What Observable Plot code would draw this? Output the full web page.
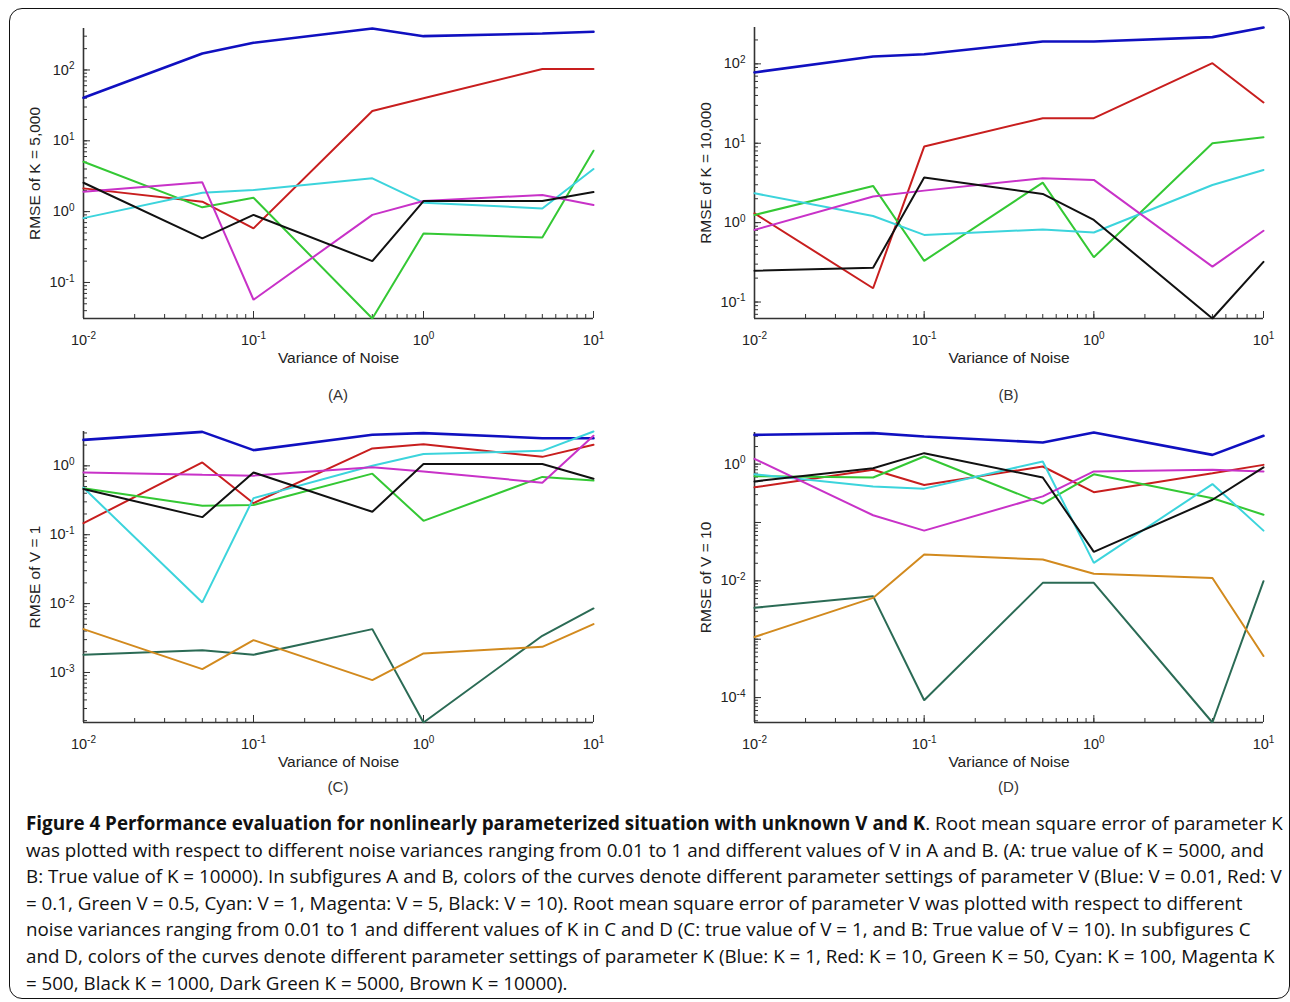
<!DOCTYPE html>
<html><head><meta charset="utf-8">
<script src="https://cdn.jsdelivr.net/npm/d3@7"></script>
<script src="https://cdn.jsdelivr.net/npm/@observablehq/plot@0.6"></script>
<style>
body{margin:0;background:#fff;}
#wrap{position:relative;width:1290px;height:1002px;overflow:hidden;font-family:"Liberation Sans",Arial,sans-serif;background:#fff;}
#frame{position:absolute;left:9px;top:8px;width:1281px;height:991px;border:1.6px solid #111;border-radius:13px;box-sizing:border-box;}
.panel{position:absolute;}
.tag{position:absolute;font-size:15px;color:#333;transform:translateX(-50%);}
#caption{position:absolute;left:26px;top:810px;font-family:"Open Sans",sans-serif;font-size:18.8px;line-height:26.6px;color:#111;white-space:nowrap;}
#caption b{font-weight:700;}
</style></head>
<body><div id="wrap"><div id="frame"></div></div>
<script>
// x values: variance of noise
const noise = [0.01, 0.05, 0.1, 0.5, 1, 5, 10];

// Panel A: RMSE of K = 5,000 (curves by V)
const A_blue    = [40.5, 171, 242, 385, 300, 327, 346];
const A_red     = [2.13, 1.38, 0.58, 26.3, 40, 103, 103];
const A_green   = [5.07, 1.15, 1.57, 0.031, 0.49, 0.43, 7.25];
const A_cyan    = [0.81, 1.85, 2.02, 2.95, 1.34, 1.11, 4.0];
const A_magenta = [1.91, 2.59, 0.057, 0.90, 1.41, 1.72, 1.24];
const A_black   = [2.56, 0.42, 0.90, 0.20, 1.41, 1.41, 1.89];

// Panel B: RMSE of K = 10,000 (curves by V)
const B_blue    = [78, 124, 132, 191, 191, 217, 287];
const B_red     = [1.31, 0.149, 9.08, 20.7, 20.7, 102, 32.6];
const B_green   = [1.25, 2.9, 0.33, 3.19, 0.366, 10, 11.9];
const B_cyan    = [2.34, 1.21, 0.70, 0.82, 0.75, 2.98, 4.61];
const B_magenta = [0.81, 2.13, 2.53, 3.62, 3.45, 0.279, 0.79];
const B_black   = [0.248, 0.271, 3.69, 2.30, 1.08, 0.062, 0.32];

// Panel C: RMSE of V = 1 (curves by K)
const C_blue      = [2.38, 3.11, 1.69, 2.82, 2.98, 2.52, 2.52];
const C_red       = [0.147, 1.12, 0.287, 1.79, 2.06, 1.35, 2.02];
const C_green     = [0.474, 0.263, 0.27, 0.77, 0.159, 0.69, 0.61];
const C_cyan      = [0.48, 0.0104, 0.34, 1.0, 1.48, 1.65, 3.15];
const C_magenta   = [0.80, 0.74, 0.72, 0.95, 0.83, 0.57, 2.73];
const C_black     = [0.46, 0.18, 0.80, 0.215, 1.06, 1.06, 0.65];
const C_darkgreen = [1.81e-3, 2.11e-3, 1.81e-3, 4.26e-3, 1.88e-4, 3.41e-3, 8.5e-3];
const C_brown     = [4.26e-3, 1.12e-3, 2.95e-3, 7.75e-4, 1.89e-3, 2.36e-3, 5.04e-3];

// Panel D: RMSE of V = 10 (curves by K)
const D_blue      = [3.17, 3.39, 2.97, 2.35, 3.48, 1.44, 3.05];
const D_red       = [0.40, 0.80, 0.44, 0.91, 0.33, 0.70, 0.97];
const D_green     = [0.62, 0.59, 1.35, 0.21, 0.67, 0.26, 0.136];
const D_cyan      = [0.67, 0.415, 0.38, 1.11, 0.0203, 0.455, 0.0725];
const D_magenta   = [1.23, 0.133, 0.0725, 0.28, 0.75, 0.80, 0.75];
const D_black     = [0.505, 0.85, 1.54, 0.59, 0.0313, 0.245, 0.88];
const D_darkgreen = [3.45e-3, 5.47e-3, 9.0e-5, 9.24e-3, 9.24e-3, 3.74e-5, 9.87e-3];
const D_brown     = [1.09e-3, 5.1e-3, 0.0282, 0.0232, 0.0132, 0.0112, 5.15e-4];

const colors = {
  blue: "#1010c0", red: "#c81e1e", green: "#34c834", cyan: "#3cd4dc",
  magenta: "#c832c8", black: "#111111", darkgreen: "#2b6b55", brown: "#d28a1e"
};
const xLabel = "Variance of Noise";

const wrap = document.getElementById("wrap");

function isMajor(v) {
  const l = Math.log10(v);
  return Math.abs(l - Math.round(l)) < 1e-9;
}

function panel(cfg) {
  const {series, yLabel, tag, left, top, width, height, ml, mr, mt, mb, majorStep} = cfg;
  const innerW = width - ml - mr, innerH = height - mt - mb;
  const xDomain = d3.extent(noise);
  const yDomain = d3.extent(series.flatMap(s => s.values));
  const xTicks = d3.scaleLog().domain(xDomain).ticks();
  const yTicks = d3.scaleLog().domain(yDomain).ticks();
  const xMajor = xTicks.filter(isMajor);
  const yMajor = yTicks.filter(isMajor).filter(v => Math.round(Math.log10(v)) % majorStep === 0);
  const expFmt = v => String(Math.round(Math.log10(v)));
  const axisStroke = "#333";
  const marks = [
    // inward minor and major ticks
    Plot.tickX(xTicks, {x: d => d, stroke: axisStroke, insetTop: innerH - 4}),
    Plot.tickX(xMajor, {x: d => d, stroke: axisStroke, insetTop: innerH - 7}),
    Plot.tickY(yTicks, {y: d => d, stroke: axisStroke, insetRight: innerW - 4}),
    Plot.tickY(yTicks.filter(isMajor), {y: d => d, stroke: axisStroke, insetRight: innerW - 7}),
    Plot.axisX(xMajor, {tickSize: 0, tickPadding: 16, tickFormat: expFmt, fill: "#222",
      label: xLabel, labelAnchor: "center", labelArrow: "none", labelOffset: 44}),
    Plot.axisY(yMajor, {tickSize: 0, tickPadding: 9, tickFormat: expFmt, fill: "#222",
      label: yLabel, labelAnchor: "center", labelArrow: "none", labelOffset: 55}),
    Plot.ruleX([xDomain[0]], {stroke: axisStroke, strokeWidth: 1.6}),
    Plot.ruleY([yDomain[0]], {stroke: axisStroke, strokeWidth: 1.6}),
    ...series.map(s => Plot.line(noise.map((x, i) => ({x, y: s.values[i]})), {
      x: "x", y: "y", stroke: colors[s.name], strokeWidth: s.name === "blue" ? 2.6 : 2, strokeLinejoin: "miter"
    }))
  ];
  const svg = Plot.plot({
    width, height, marginLeft: ml, marginRight: mr, marginTop: mt, marginBottom: mb,
    x: {type: "log", domain: xDomain},
    y: {type: "log", domain: yDomain},
    style: {fontFamily: "'Liberation Sans', Arial, sans-serif", fontSize: "14.5px", color: "#333", background: "transparent", overflow: "visible"},
    marks
  });
  // superscript exponents for tick labels
  const NS = "http://www.w3.org/2000/svg";
  svg.querySelectorAll('g[aria-label="x-axis tick label"] text, g[aria-label="y-axis tick label"] text').forEach(t => {
    const e = t.textContent;
    if (e === "") return;
    t.textContent = "";
    const a = document.createElementNS(NS, "tspan"); a.textContent = "10";
    const b = document.createElementNS(NS, "tspan"); b.textContent = e;
    b.setAttribute("dy", "-0.55em"); b.setAttribute("font-size", "10px");
    t.appendChild(a); t.appendChild(b);
  });
  svg.querySelectorAll('g[aria-label="x-axis label"] text, g[aria-label="y-axis label"] text').forEach(t => {
    t.setAttribute("font-size", "15.5px");
  });
  const div = document.createElement("div");
  div.className = "panel";
  div.style.left = left + "px"; div.style.top = top + "px";
  div.appendChild(svg);
  wrap.appendChild(div);
  const tg = document.createElement("div");
  tg.className = "tag";
  tg.textContent = tag;
  tg.style.left = (left + ml + innerW / 2) + "px";
  tg.style.top = (top + height + 6) + "px";
  wrap.appendChild(tg);
}

const ser = (arrs) => Object.entries(arrs).map(([name, values]) => ({name, values}));

panel({series: ser({blue: A_blue, red: A_red, green: A_green, cyan: A_cyan, magenta: A_magenta, black: A_black}),
  yLabel: "RMSE of K = 5,000", tag: "(A)", left: 0, top: 0, width: 640, height: 380,
  ml: 83, mr: 47, mt: 28, mb: 62, majorStep: 1});
panel({series: ser({blue: B_blue, red: B_red, green: B_green, cyan: B_cyan, magenta: B_magenta, black: B_black}),
  yLabel: "RMSE of K = 10,000", tag: "(B)", left: 640, top: 0, width: 650, height: 380,
  ml: 114, mr: 27, mt: 27, mb: 62, majorStep: 1});
panel({series: ser({blue: C_blue, red: C_red, green: C_green, cyan: C_cyan, magenta: C_magenta, black: C_black, darkgreen: C_darkgreen, brown: C_brown}),
  yLabel: "RMSE of V = 1", tag: "(C)", left: 0, top: 400, width: 640, height: 372,
  ml: 83, mr: 47, mt: 31, mb: 50, majorStep: 1});
panel({series: ser({blue: D_blue, red: D_red, green: D_green, cyan: D_cyan, magenta: D_magenta, black: D_black, darkgreen: D_darkgreen, brown: D_brown}),
  yLabel: "RMSE of V = 10", tag: "(D)", left: 640, top: 400, width: 650, height: 372,
  ml: 114, mr: 27, mt: 32, mb: 50, majorStep: 2});

const captionLines = [
  "<b>Figure 4 Performance evaluation for nonlinearly parameterized situation with unknown V and K</b>. Root mean square error of parameter K",
  "was plotted with respect to different noise variances ranging from 0.01 to 1 and different values of V in A and B. (A: true value of K = 5000, and",
  "B: True value of K = 10000). In subfigures A and B, colors of the curves denote different parameter settings of parameter V (Blue: V = 0.01, Red: V",
  "= 0.1, Green V = 0.5, Cyan: V = 1, Magenta: V = 5, Black: V = 10). Root mean square error of parameter V was plotted with respect to different",
  "noise variances ranging from 0.01 to 1 and different values of K in C and D (C: true value of V = 1, and B: True value of V = 10). In subfigures C",
  "and D, colors of the curves denote different parameter settings of parameter K (Blue: K = 1, Red: K = 10, Green K = 50, Cyan: K = 100, Magenta K",
  "= 500, Black K = 1000, Dark Green K = 5000, Brown K = 10000)."
];
const cap = document.createElement("div");
cap.id = "caption";
cap.innerHTML = captionLines.map(l => "<div>" + l + "</div>").join("");
wrap.appendChild(cap);
</script>
</body></html>
